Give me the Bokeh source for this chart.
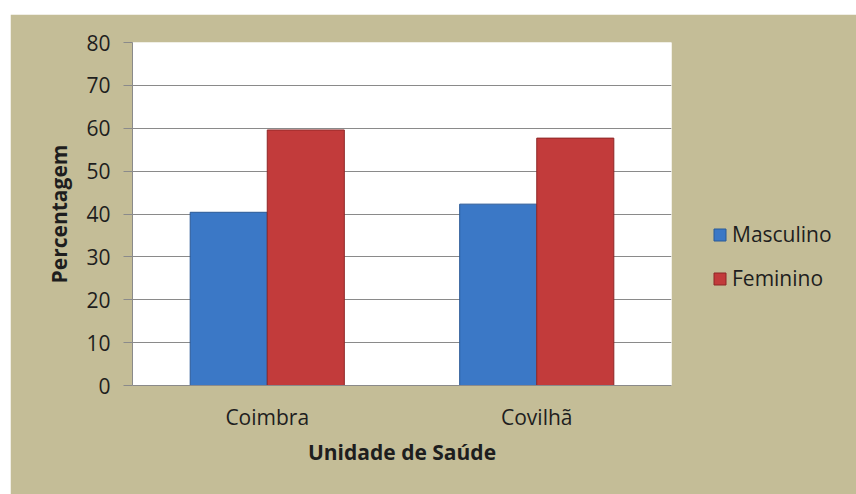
from bokeh.plotting import figure
from bokeh.models import FactorRange, Range1d, Legend, LegendItem, ColumnDataSource, FixedTicker
from bokeh.transform import dodge
from bokeh.embed import file_html
from bokeh.resources import INLINE

units = ["Coimbra", "Covilhã"]
masculino = [40.4, 42.3]
feminino = [59.6, 57.7]
series_names = ["Masculino", "Feminino"]
y_ticks = [0, 10, 20, 30, 40, 50, 60, 70, 80]

TAN = "#C4BD97"
TXT = "#1E1E1E"
FONT = "Open Sans"

src = ColumnDataSource(dict(unit=units, masc=masculino, fem=feminino))

p = figure(x_range=FactorRange(*units, range_padding=0),
           y_range=Range1d(0, 80),
           frame_width=539, frame_height=343,
           output_backend="svg", toolbar_location=None,
           min_border_left=122, min_border_right=185,
           min_border_top=28, min_border_bottom=109)
p.margin = (14, 0, 0, 10)
p.background_fill_color = "white"
p.border_fill_color = TAN
p.outline_line_color = None

bw = 0.286
r1 = p.vbar(x=dodge("unit", -0.143, range=p.x_range), top="masc", width=bw, source=src,
            fill_color="#3B78C6", line_color="#2B5A96", line_width=1)
r2 = p.vbar(x=dodge("unit", 0.143, range=p.x_range), top="fem", width=bw, source=src,
            fill_color="#C23B3B", line_color="#8E2727", line_width=1)

# grid
p.xgrid.grid_line_color = None
p.ygrid.grid_line_color = "#8A8A8A"
p.ygrid.grid_line_width = 1
p.ygrid.level = "underlay"

# y axis
p.yaxis.ticker = FixedTicker(ticks=y_ticks)
p.yaxis.axis_line_color = "#8A8A8A"
p.yaxis.major_tick_line_color = "#8A8A8A"
p.yaxis.major_tick_out = 9
p.yaxis.major_tick_in = 0
p.yaxis.minor_tick_line_color = None
p.yaxis.major_label_standoff = 13
p.yaxis.major_label_text_font = FONT
p.yaxis.major_label_text_font_size = "21px"
p.yaxis.major_label_text_color = TXT
p.yaxis.axis_label = "Percentagem"
p.yaxis.axis_label_text_font = FONT
p.yaxis.axis_label_text_font_style = "bold"
p.yaxis.axis_label_text_font_size = "21px"
p.yaxis.axis_label_text_color = TXT
p.yaxis.axis_label_standoff = 10

# x axis
p.xaxis.axis_line_color = "#8A8A8A"
p.xaxis.major_tick_line_color = None
p.xaxis.minor_tick_line_color = None
p.xaxis.major_label_standoff = 11
p.xaxis.major_label_text_font = FONT
p.xaxis.major_label_text_font_size = "21px"
p.xaxis.major_label_text_color = TXT
p.xaxis.axis_label = "Unidade de Saúde"
p.xaxis.axis_label_text_font = FONT
p.xaxis.axis_label_text_font_style = "bold"
p.xaxis.axis_label_text_font_size = "21px"
p.xaxis.axis_label_text_color = TXT
p.xaxis.axis_label_standoff = 4

legend = Legend(items=[LegendItem(label=series_names[0], renderers=[r1]),
                       LegendItem(label=series_names[1], renderers=[r2])],
                location=(41, 93), orientation="vertical")
legend.padding = 0
legend.margin = 0
legend.border_line_color = None
legend.background_fill_alpha = 0
legend.glyph_width = 15
legend.glyph_height = 15
legend.label_height = 24
legend.spacing = 16
legend.label_standoff = 5
legend.label_text_font = FONT
legend.label_text_font_size = "21px"
legend.label_text_color = TXT
p.add_layout(legend, "right")

open("out.html", "w").write(file_html(p, INLINE))
